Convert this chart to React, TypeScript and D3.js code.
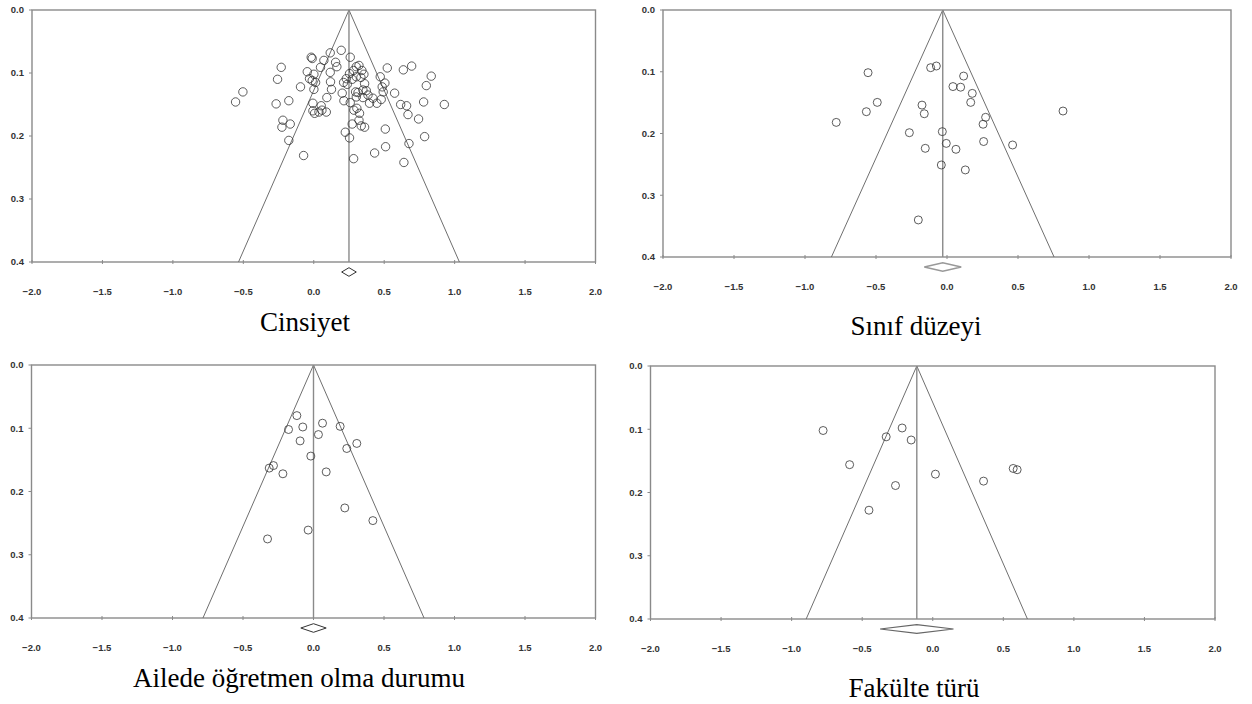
import React from "react";
import * as d3 from "d3";

// ---------- data (effect size, standard error) ----------
const cinsiyetPoints: [number, number][] = [
  [-0.018, 0.075], [-0.011, 0.077], [0.117, 0.068], [0.195, 0.064], [0.259, 0.075], [0.072, 0.080],
  [0.155, 0.083], [0.164, 0.090], [0.048, 0.091], [-0.046, 0.098], [0.001, 0.102], [-0.030, 0.109],
  [-0.011, 0.112], [0.013, 0.115], [0.117, 0.099], [0.119, 0.114], [0.126, 0.126], [0.001, 0.126],
  [-0.094, 0.122], [-0.231, 0.091], [-0.257, 0.110], [-0.503, 0.130], [-0.555, 0.146], [-0.267, 0.149],
  [-0.177, 0.144], [0.093, 0.139], [0.202, 0.132], [0.214, 0.144], [0.259, 0.147], [0.231, 0.109],
  [0.212, 0.115], [0.238, 0.118], [0.254, 0.101], [0.283, 0.096], [0.302, 0.090], [0.321, 0.088],
  [0.342, 0.096], [0.356, 0.102], [0.335, 0.107], [0.302, 0.106], [0.273, 0.110], [0.361, 0.117],
  [0.297, 0.130], [0.314, 0.131], [0.349, 0.127], [0.373, 0.128], [0.302, 0.138], [0.349, 0.139],
  [0.396, 0.148], [0.448, 0.148], [0.385, 0.135], [0.420, 0.140], [0.479, 0.142], [0.493, 0.130],
  [0.505, 0.116], [0.486, 0.122], [0.472, 0.106], [0.522, 0.092], [0.636, 0.095], [0.695, 0.089],
  [0.834, 0.105], [0.799, 0.120], [0.574, 0.132], [0.617, 0.150], [0.659, 0.152], [0.669, 0.166],
  [0.744, 0.173], [0.780, 0.146], [0.927, 0.150], [0.787, 0.201], [0.676, 0.212], [0.640, 0.242],
  [0.508, 0.189], [0.510, 0.217], [0.432, 0.227], [0.283, 0.236], [0.254, 0.203], [0.224, 0.194],
  [0.273, 0.181], [0.321, 0.175], [0.337, 0.184], [0.361, 0.186], [0.325, 0.164], [0.285, 0.159],
  [0.306, 0.156], [-0.006, 0.148], [0.053, 0.152], [-0.006, 0.160], [0.006, 0.164], [0.037, 0.162],
  [0.058, 0.159], [0.089, 0.162], [-0.219, 0.175], [-0.226, 0.186], [-0.167, 0.181], [-0.177, 0.207],
  [-0.072, 0.231],
];

const sinifPoints: [number, number][] = [
  [-0.556, 0.1015], [-0.115, 0.0934], [-0.075, 0.0907], [0.117, 0.107], [0.042, 0.124], [0.096, 0.125],
  [0.178, 0.135], [0.167, 0.1496], [-0.491, 0.1496], [-0.176, 0.154], [-0.568, 0.1647], [-0.16, 0.168],
  [0.272, 0.1738], [0.254, 0.185], [-0.78, 0.182], [-0.265, 0.1987], [-0.033, 0.197], [-0.005, 0.216],
  [0.258, 0.213], [0.462, 0.2186], [-0.153, 0.224], [0.063, 0.2256], [-0.04, 0.251], [0.129, 0.259],
  [-0.202, 0.34], [0.817, 0.1636],
];

const ailePoints: [number, number][] = [
  [-0.118, 0.080], [-0.177, 0.102], [-0.076, 0.098], [0.064, 0.092], [0.189, 0.097], [0.035, 0.110],
  [-0.095, 0.120], [0.307, 0.124], [0.236, 0.132], [-0.019, 0.144], [-0.284, 0.159], [-0.314, 0.163],
  [-0.217, 0.172], [0.090, 0.169], [0.222, 0.226], [0.421, 0.246], [-0.038, 0.261], [-0.326, 0.275],
];

const fakultePoints: [number, number][] = [
  [-0.777, 0.102], [-0.330, 0.112], [-0.217, 0.098], [-0.153, 0.117], [-0.589, 0.156], [0.019, 0.171],
  [-0.264, 0.189], [-0.452, 0.228], [0.360, 0.182], [0.570, 0.162], [0.598, 0.164],
];

const panelTitles = ["Cinsiyet", "Sınıf düzeyi", "Ailede öğretmen olma durumu", "Fakülte türü"];
const pooledMeans = [0.25, -0.03, 0.0, -0.113];
const pooledCIHalf = [0.052, 0.13, 0.09, 0.26];

const xTicks = [-2.0, -1.5, -1.0, -0.5, 0.0, 0.5, 1.0, 1.5, 2.0];
const yTicks = [0.0, 0.1, 0.2, 0.3, 0.4];
const xDomain: [number, number] = [-2, 2];
const yDomain: [number, number] = [0, 0.4];
const Z = 1.96;

// ---------- layout ----------
type Layout = {
  xl: number; xr: number; yt: number; yb: number;
  capX: number; capY: number; r: number; diamondStroke: string; diamondWidth: number;
};

const layouts: Layout[] = [
  { xl: 32, xr: 595.5, yt: 10, yb: 262, capX: 305, capY: 331, r: 4.2, diamondStroke: "#333", diamondWidth: 1 },
  { xl: 663, xr: 1231, yt: 10, yb: 257, capX: 916, capY: 335, r: 4, diamondStroke: "#999", diamondWidth: 1.6 },
  { xl: 31.5, xr: 595.5, yt: 365, yb: 618, capX: 299, capY: 687, r: 4, diamondStroke: "#333", diamondWidth: 1 },
  { xl: 650.5, xr: 1215, yt: 366, yb: 619, capX: 914, capY: 697, r: 4, diamondStroke: "#666", diamondWidth: 1.2 },
];

const fmt = d3.format(".1f");

function Panel({ L, points, mean, ciHalf, title }: { L: Layout; points: [number, number][]; mean: number; ciHalf: number; title: string }) {
  const x = d3.scaleLinear().domain(xDomain).range([L.xl, L.xr]);
  const y = d3.scaleLinear().domain(yDomain).range([L.yt, L.yb]);
  const axisColor = "#8a8a8a";
  const funnel = d3.line<[number, number]>().x((d) => x(d[0])).y((d) => y(d[1]));
  const funnelPts: [number, number][] = [
    [mean - Z * yDomain[1], yDomain[1]],
    [mean, 0],
    [mean + Z * yDomain[1], yDomain[1]],
  ];
  const dy = L.yb + 10;
  const dh = 4.3;
  const diamond = `M${x(mean - ciHalf)},${dy} L${x(mean)},${dy - dh} L${x(mean + ciHalf)},${dy} L${x(mean)},${dy + dh} Z`;
  return (
    <g>
      <rect x={L.xl} y={L.yt} width={L.xr - L.xl} height={L.yb - L.yt} fill="none" stroke={axisColor} strokeWidth={1.4} />
      {yTicks.map((t) => (
        <g key={"y" + t}>
          <line x1={L.xl - 3} x2={L.xl} y1={y(t)} y2={y(t)} stroke={axisColor} strokeWidth={1} />
          <text x={L.xl - 8} y={y(t)} dy="0.35em" textAnchor="end" fontFamily="'Liberation Sans', Arial, sans-serif" fontWeight="bold" fontSize={9.5} fill="#333">
            {fmt(t)}
          </text>
        </g>
      ))}
      {xTicks.map((t) => (
        <g key={"x" + t}>
          <line x1={x(t)} x2={x(t)} y1={L.yb - 2} y2={L.yb + 2} stroke={axisColor} strokeWidth={1} />
          <text x={x(t)} y={L.yb + 30} dy="0.35em" textAnchor="middle" fontFamily="'Liberation Sans', Arial, sans-serif" fontWeight="bold" fontSize={9.5} fill="#333">
            {fmt(t)}
          </text>
        </g>
      ))}
      <path d={funnel(funnelPts) || ""} fill="none" stroke="#6f6f6f" strokeWidth={1} />
      <line x1={x(mean)} x2={x(mean)} y1={y(0)} y2={y(yDomain[1])} stroke={axisColor} strokeWidth={1.4} />
      {points.map((p, i) => (
        <circle key={i} cx={x(p[0])} cy={y(p[1])} r={L.r} fill="none" stroke="#333" strokeWidth={0.8} />
      ))}
      <path d={diamond} fill="#fff" stroke={L.diamondStroke} strokeWidth={L.diamondWidth} />
      <text x={L.capX} y={L.capY} textAnchor="middle" fontFamily="'Liberation Serif', 'Times New Roman', serif" fontSize={27} fill="#000">
        {title}
      </text>
    </g>
  );
}

export default function App() {
  const sets = [cinsiyetPoints, sinifPoints, ailePoints, fakultePoints];
  return (
    <svg width={1252} height={704} style={{ position: "absolute", left: 0, top: 0, background: "#fff" }}>
      <rect width={1252} height={704} fill="#fff" />
      {layouts.map((L, i) => (
        <Panel key={i} L={L} points={sets[i]} mean={pooledMeans[i]} ciHalf={pooledCIHalf[i]} title={panelTitles[i]} />
      ))}
    </svg>
  );
}
